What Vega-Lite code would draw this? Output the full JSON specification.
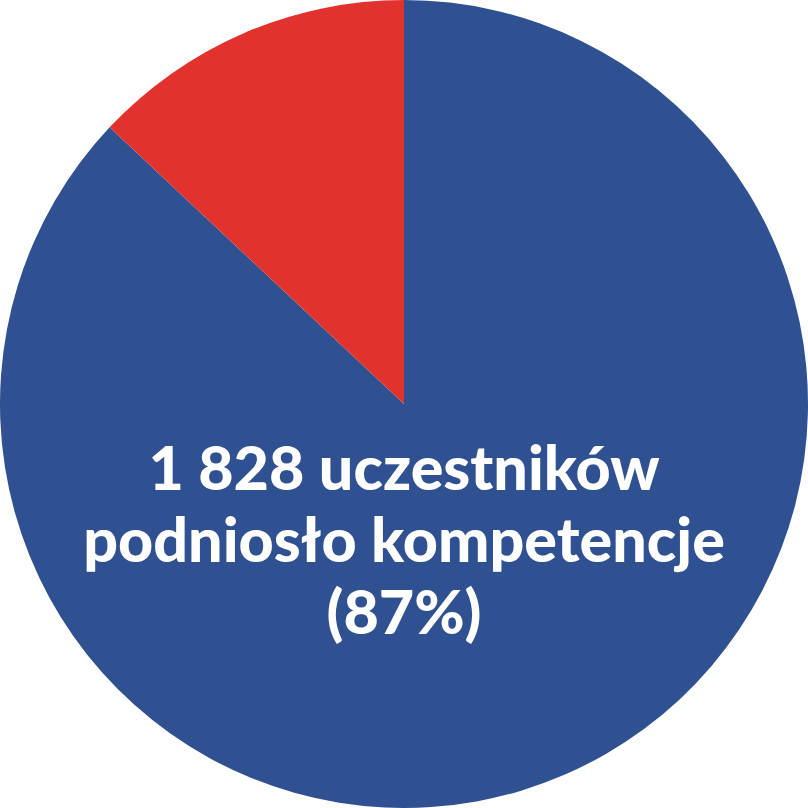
{
  "$schema": "https://vega.github.io/schema/vega-lite/v6.json",
  "width": 808,
  "height": 808,
  "autosize": { "type": "fit", "contains": "padding" },
  "padding": 0,
  "background": "white",
  "view": { "stroke": null },
  "data": {
    "values": [
      { "group": "podniosło kompetencje", "count": 1828 },
      { "group": "nie podniosło kompetencji", "count": 273 }
    ]
  },
  "layer": [
    {
      "mark": { "type": "arc", "outerRadius": 404 },
      "encoding": {
        "theta": { "field": "count", "type": "quantitative", "stack": true },
        "order": { "field": "count", "sort": "descending" },
        "color": {
          "field": "group",
          "type": "nominal",
          "scale": {
            "domain": ["podniosło kompetencje", "nie podniosło kompetencji"],
            "range": ["#2F5191", "#E1322D"]
          },
          "legend": null
        }
      }
    },
    {
      "transform": [{ "filter": "datum.group == 'podniosło kompetencje'" }],
      "mark": {
        "type": "text",
        "text": ["1 828 uczestników", "podniosło kompetencje", "(87%)"],
        "font": "Lato",
        "fontWeight": 900,
        "fontSize": 61,
        "lineHeight": 72,
        "color": "white",
        "align": "center",
        "baseline": "alphabetic",
        "dy": 86
      },
      "encoding": {}
    }
  ]
}
